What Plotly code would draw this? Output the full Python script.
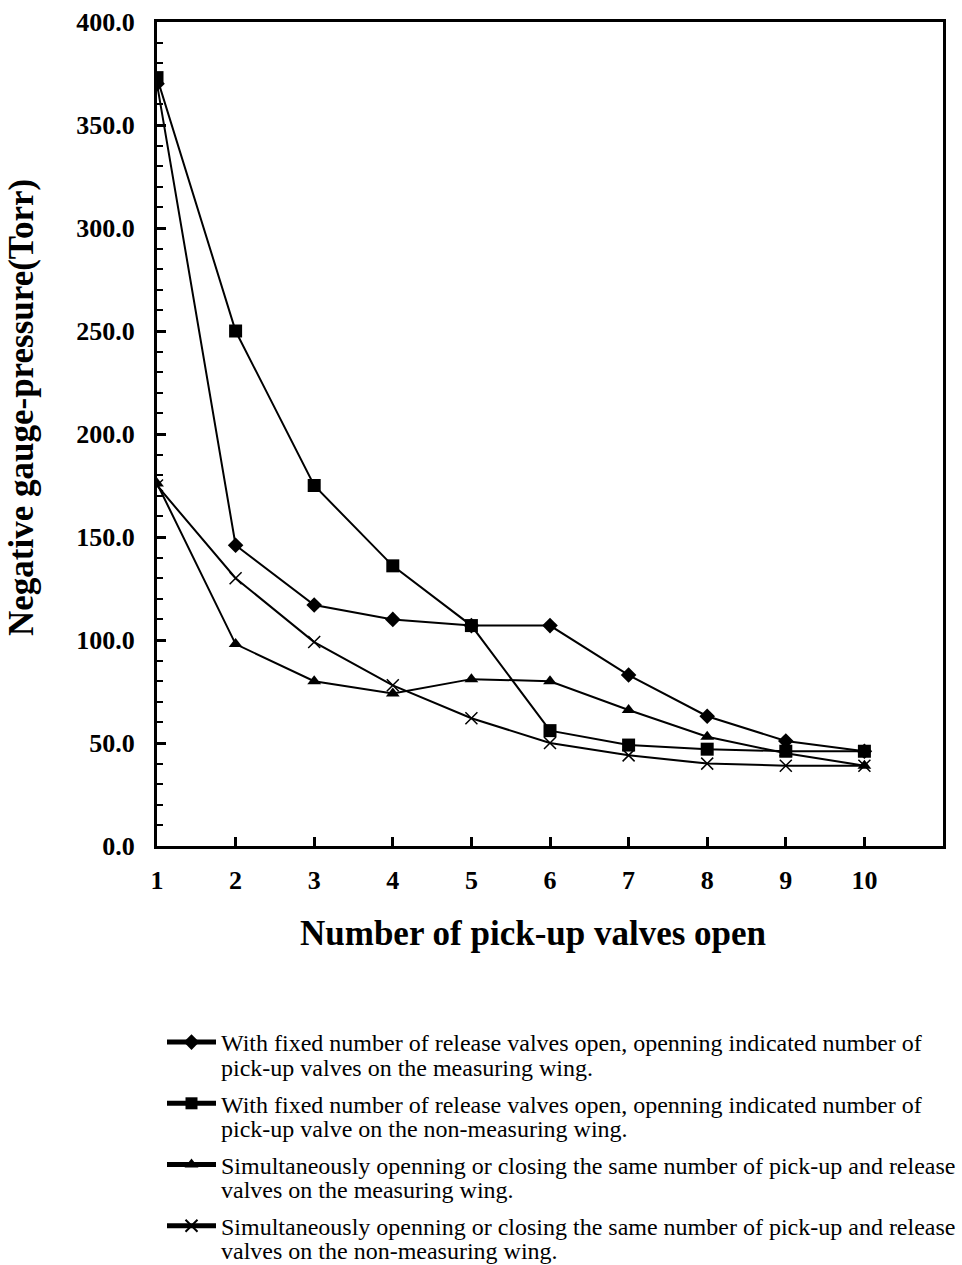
import plotly.graph_objects as go

valves = [1, 2, 3, 4, 5, 6, 7, 8, 9, 10]
fixed_measuring = [370, 146, 117, 110, 107, 107, 83, 63, 51, 46]
fixed_non_measuring = [373, 250, 175, 136, 107, 56, 49, 47, 46, 46]
simul_measuring = [176, 98, 80, 74, 81, 80, 66, 53, 45, 39]
simul_non_measuring = [175, 130, 99, 78, 62, 50, 44, 40, 39, 39]

legend_line1 = [
    "With fixed number of release valves open, openning indicated number of",
    "With fixed number of release valves open, openning indicated number of",
    "Simultaneously openning or closing the same number of pick-up and release",
    "Simultaneously openning or closing the same number of pick-up and release",
]
legend_line2 = [
    "pick-up valves on the measuring wing.",
    "pick-up valve on the non-measuring wing.",
    "valves on the measuring wing.",
    "valves on the non-measuring wing.",
]
series = [fixed_measuring, fixed_non_measuring, simul_measuring, simul_non_measuring]
symbols = ["diamond", "square", "triangle-up", "x-thin"]
sizes = [12, 13, 12, 12]

y_ticks = [0, 50, 100, 150, 200, 250, 300, 350, 400]
x_title = "Number of pick-up valves open"
y_title = "Negative gauge-pressure(Torr)"

# layout geometry (pixels)
W, H = 962, 1265
ML, MR, MT, MB = 157, 19, 22, 419
plot_h = H - MT - MB
def paper_y(px):
    return (H - MB - px) / plot_h
def paper_x(px):
    return (px - ML) / (W - ML - MR)

fig = go.Figure()
for i, (name, vals, sym, sz) in enumerate(zip(legend_line1, series, symbols, sizes)):
    marker = dict(symbol=sym, size=sz, color="black")
    if sym == "x-thin":
        marker["line"] = dict(color="black", width=1.5)
    fig.add_trace(go.Scatter(
        x=valves, y=vals, name=name, mode="lines+markers",
        legendgroup=f"g{i}",
        line=dict(color="black", width=2), marker=marker,
    ))

# second lines of legend entries
line2_px = [1068, 1129, 1190, 1251]
for txt, ypx in zip(legend_line2, line2_px):
    fig.add_annotation(
        x=paper_x(219), y=paper_y(ypx), xref="paper", yref="paper",
        xanchor="left", yanchor="middle", showarrow=False, text=txt,
        font=dict(family="Liberation Serif", size=24, color="black"),
    )

# axis titles
fig.add_annotation(
    x=paper_x(533), y=paper_y(933), xref="paper", yref="paper",
    xanchor="center", yanchor="middle", showarrow=False,
    text=f"<b>{x_title}</b>",
    font=dict(family="Liberation Serif", size=35, color="black"),
)
fig.add_annotation(
    x=paper_x(21), y=paper_y(408), xref="paper", yref="paper",
    xanchor="center", yanchor="middle", showarrow=False, textangle=-90,
    text=f"<b>{y_title}</b>",
    font=dict(family="Liberation Serif", size=35, color="black"),
)

fig.update_layout(
    width=W, height=H,
    margin=dict(l=ML, r=MR, t=MT, b=MB, autoexpand=False),
    paper_bgcolor="white", plot_bgcolor="white",
    font=dict(family="Liberation Serif", color="black"),
    showlegend=True,
    legend=dict(
        xref="container", yref="container",
        x=162 / W, y=1 - 1020 / H, xanchor="left", yanchor="top",
        font=dict(family="Liberation Serif", size=24, color="black"),
        valign="top", itemwidth=49, tracegroupgap=27, itemsizing="constant",
        bgcolor="rgba(0,0,0,0)",
    ),
)

fig.update_xaxes(
    range=[1, 11], tickmode="array", tickvals=valves,
    ticktext=[str(v) for v in valves],
    ticks="inside", ticklen=9, tickwidth=2.5, tickcolor="black",
    showline=True, linewidth=3, linecolor="black", mirror=True,
    showgrid=False, zeroline=False, ticklabelstandoff=9,
    tickfont=dict(family="Liberation Serif", size=26, color="black", weight="bold"),
)
fig.update_yaxes(
    range=[0, 400], tickmode="array", tickvals=y_ticks,
    ticktext=[f"{v:.1f}" for v in y_ticks],
    ticks="inside", ticklen=9, tickwidth=2.5, tickcolor="black",
    minor=dict(dtick=10, ticks="inside", ticklen=6, tickwidth=2, tickcolor="black"),
    showline=True, linewidth=3, linecolor="black", mirror=True,
    showgrid=False, zeroline=False, ticklabelstandoff=14,
    tickfont=dict(family="Liberation Serif", size=26, color="black", weight="bold"),
)

fig.write_html("out.html")
